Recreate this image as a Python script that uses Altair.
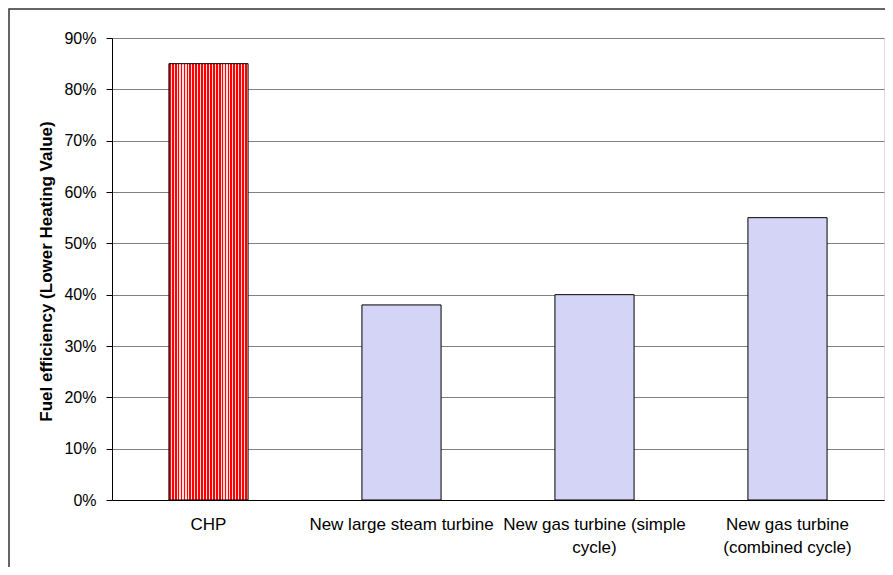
import altair as alt
import pandas as pd

categories = ["CHP", "New large steam turbine", "New gas turbine (simple cycle)",
              "New gas turbine (combined cycle)"]
label_lines = [["CHP"], ["New large steam turbine"], ["New gas turbine (simple", "cycle)"],
               ["New gas turbine", "(combined cycle)"]]
efficiency = [0.85, 0.38, 0.40, 0.55]
highlight = [True, False, False, False]

df = pd.DataFrame({"tech": categories, "eff": efficiency, "chp": highlight})

# build label expression from label_lines
expr = "''"
for cat, lines in reversed(list(zip(categories, label_lines))):
    arr = "[" + ",".join("'" + l + "'" for l in lines) + "]"
    expr = f"datum.value == '{cat}' ? {arr} : ({expr})"

FONT = "Liberation Sans"

# red vertical stripes for CHP
n = 27
stops = []
for i in range(n):
    stops.append(alt.GradientStop(offset=i / n, color="#ff0000"))
    stops.append(alt.GradientStop(offset=(i + 0.6) / n, color="#ff0000"))
    stops.append(alt.GradientStop(offset=(i + 0.6) / n, color="#ffdede"))
    stops.append(alt.GradientStop(offset=(i + 1) / n, color="#ffdede"))
red_stripes = alt.Gradient(gradient="linear", stops=stops, x1=0, x2=1, y1=0, y2=0)

x_enc = alt.X("tech:N", sort=categories,
              scale=alt.Scale(paddingInner=0.59, paddingOuter=0.295),
              axis=alt.Axis(title=None, labelAngle=0, ticks=False, labelExpr=expr,
                            labelFont=FONT, labelFontSize=17, labelColor="#000",
                            labelPadding=16, labelLineHeight=23, domainColor="#000",
                            labelLimit=300))
y_enc = alt.Y("eff:Q", scale=alt.Scale(domain=[0, 0.9]),
              axis=alt.Axis(title="Fuel efficiency (Lower Heating Value)", format=".0%",
                            values=[0, 0.1, 0.2, 0.3, 0.4, 0.5, 0.6, 0.7, 0.8, 0.9],
                            labelFont=FONT, labelFontSize=16, labelColor="#000",
                            labelPadding=10, tickSize=6, tickColor="#000", domainColor="#000",
                            gridColor="#808080", gridWidth=1.2,
                            titleFont=FONT, titleFontSize=17, titleFontWeight="bold",
                            titleColor="#000", titleAngle=270, titleX=-66, titleY=233,
                            titleAlign="center", titleBaseline="middle"))

base = alt.Chart(df)
red_bar = base.transform_filter("datum.chp").mark_bar(
    color=red_stripes, stroke="#000", strokeWidth=1).encode(x=x_enc, y=y_enc)
blue_bar = base.transform_filter("!datum.chp").mark_bar(
    color="#d4d4f6", stroke="#000", strokeWidth=1).encode(x=x_enc, y=y_enc)

frame = alt.Chart(pd.DataFrame({"a": [0]})).mark_rect(
    fill=None, stroke="#333", strokeWidth=1.5).encode(
    x=alt.value(-103), x2=alt.value(900), y=alt.value(-29), y2=alt.value(700))

chart = alt.layer(red_bar, blue_bar, frame).properties(
    width=772, height=462,
    autosize=alt.AutoSizeParams(type="none"),
    padding={"left": 104, "top": 30, "right": 1, "bottom": 67},
).configure_view(stroke="#000", strokeWidth=1).configure(background="white")

chart.save("out.html", embed_options={"renderer": "svg", "actions": False})
